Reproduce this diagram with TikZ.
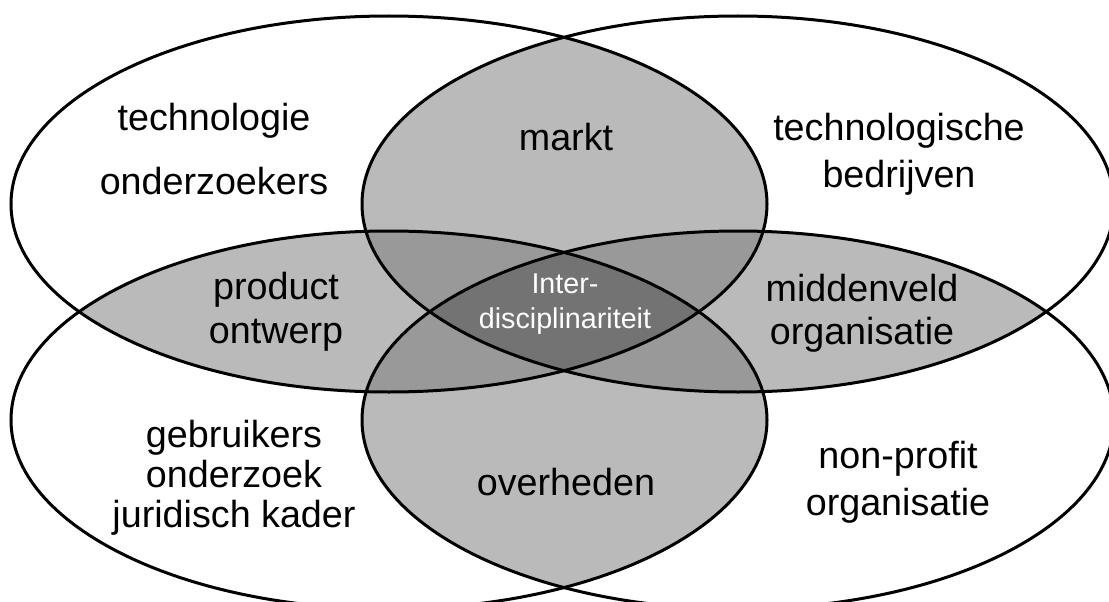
\documentclass[tikz,border=0pt]{standalone}
\usepackage{fontspec}
\setmainfont{Liberation Sans}

% the four overlapping ellipses
\def\shapeTL{(389,204) ellipse [x radius=378, y radius=188]}
\def\shapeTR{(738,204) ellipse [x radius=376, y radius=188]}
\def\shapeBL{(389,420) ellipse [x radius=378, y radius=189]}
\def\shapeBR{(738,420) ellipse [x radius=376, y radius=189]}

\definecolor{pairgray}{gray}{0.73}
\definecolor{triplegray}{gray}{0.60}
\definecolor{coregray}{gray}{0.45}

\tikzset{
  lbl/.style={font=\fontsize{37.7}{44}\selectfont, anchor=base, inner sep=0pt},
  corelbl/.style={font=\fontsize{28.7}{34}\selectfont, anchor=base, inner sep=0pt, text=white},
  outline/.style={draw=black, line width=3pt}
}

\begin{document}
\begin{tikzpicture}[x=1pt, y=-1pt]
  \clip (0,0) rectangle (1109,602);
  \fill[white] (0,0) rectangle (1109,602);

  % regions covered by two ellipses
  \begin{scope}\clip \shapeTL; \fill[pairgray] \shapeTR; \fill[pairgray] \shapeBL; \fill[pairgray] \shapeBR; \end{scope}
  \begin{scope}\clip \shapeTR; \fill[pairgray] \shapeBL; \fill[pairgray] \shapeBR; \end{scope}
  \begin{scope}\clip \shapeBL; \fill[pairgray] \shapeBR; \end{scope}

  % regions covered by three ellipses
  \begin{scope}\clip \shapeTL; \clip \shapeTR; \fill[triplegray] \shapeBL; \fill[triplegray] \shapeBR; \end{scope}
  \begin{scope}\clip \shapeBL; \clip \shapeBR; \fill[triplegray] \shapeTL; \fill[triplegray] \shapeTR; \end{scope}

  % region covered by all four
  \begin{scope}\clip \shapeTL; \clip \shapeTR; \clip \shapeBL; \fill[coregray] \shapeBR; \end{scope}

  % outlines
  \draw[outline] \shapeTL;
  \draw[outline] \shapeTR;
  \draw[outline] \shapeBL;
  \draw[outline] \shapeBR;

  % labels
  \node[lbl] (techA) at (214,130) {technologie};
  \node[lbl] (techB) at (214,194) {onderzoekers};
  \node[lbl] (markt) at (566,150) {markt};
  \node[lbl] (bedrA) at (899,140) {technologische};
  \node[lbl] (bedrB) at (899,187) {bedrijven};
  \node[lbl] (prodA) at (276,299) {product};
  \node[lbl] (prodB) at (276,343) {ontwerp};
  \node[lbl] (midA) at (862,301) {middenveld};
  \node[lbl] (midB) at (862,344) {organisatie};
  \node[corelbl] (interA) at (565,293) {Inter-};
  \node[corelbl] (interB) at (565,328) {disciplinariteit};
  \node[lbl] (gebrA) at (234,447) {gebruikers};
  \node[lbl] (gebrB) at (234,487) {onderzoek};
  \node[lbl] (gebrC) at (234,527) {juridisch kader};
  \node[lbl] (overh) at (566,495) {overheden};
  \node[lbl] (nonpA) at (898,468) {non-profit};
  \node[lbl] (nonpB) at (898,515) {organisatie};
\end{tikzpicture}
\end{document}
